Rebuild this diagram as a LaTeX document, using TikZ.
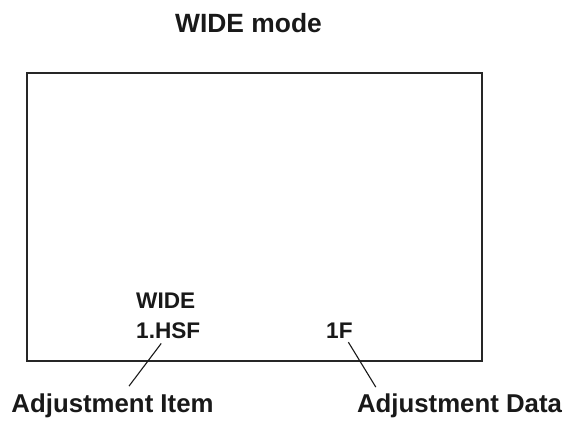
\documentclass[tikz,border=0pt]{standalone}
\usepackage{fontspec}
\setmainfont{Liberation Sans}
\usepackage{xcolor}

\begin{document}
\begin{tikzpicture}[x=1pt,y=-1pt,
    screen/.style={draw=black!85,line width=1.4pt},
    big/.style={inner sep=0pt,text=black!90,font=\bfseries\fontsize{25.8}{30}\selectfont},
    title/.style={inner sep=0pt,text=black!90,font=\bfseries\fontsize{26.4}{30}\selectfont},
    osd/.style={inner sep=0pt,text=black!90,font=\bfseries\fontsize{22.6}{26}\selectfont},
    pointer/.style={draw=black!90,line width=1.1pt}]
  \useasboundingbox (0,0) rectangle (577,421);
  \node (mode) at (248.5,32.5) [title,anchor=base] {WIDE mode};
  \draw[screen] (27,73) rectangle (482,361);
  \node (wide) at (136,308) [osd,anchor=base west] {WIDE};
  \node (hsf) at (136,338) [osd,anchor=base west] {1.HSF};
  \node (data) at (326,338) [osd,anchor=base west] {1F};
  \node (item) at (112.5,412) [big,anchor=base] {Adjustment Item};
  \node (adj) at (459.5,412) [big,anchor=base] {Adjustment Data};
  \draw[pointer] ([xshift=-7pt,yshift=-5pt]hsf.south) -- ([xshift=16.5pt,yshift=7pt]item.north);
  \draw[pointer] ([xshift=9pt,yshift=-4pt]data.south) -- ([xshift=19pt,yshift=6pt]adj.north west);
\end{tikzpicture}
\end{document}
